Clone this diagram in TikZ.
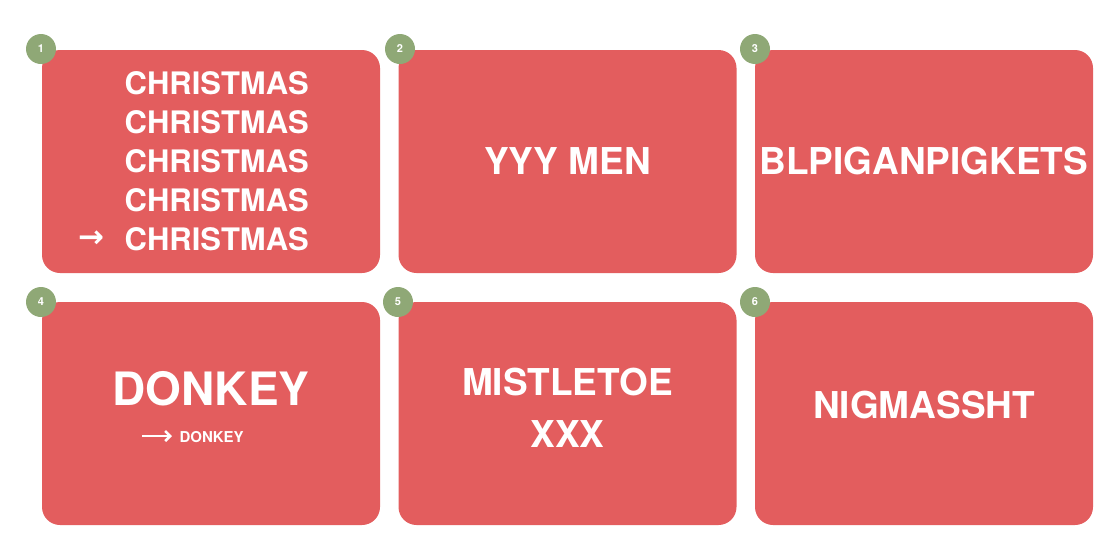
\documentclass[tikz,border=0pt]{standalone}
\usetikzlibrary{arrows.meta}
\usepackage{fontspec}
\setmainfont{TeX Gyre Heros}
\definecolor{cardred}{HTML}{E35D5E}
\definecolor{badge}{HTML}{8FA876}
\begin{document}
\begin{tikzpicture}[x=1pt,y=-1pt,
  card/.style={fill=cardred,rounded corners=18pt,inner sep=0pt,minimum width=338pt,minimum height=223pt},
  num/.style={circle,fill=badge,minimum size=30pt,inner sep=0pt,text=white,font=\bfseries\fontsize{11}{11}\selectfont},
  big/.style={text=white,font=\bfseries\fontsize{#1}{#1}\selectfont}]
\useasboundingbox (0,0) rectangle (1120,560);
\node[card] (c1) at (211,161.5) {};
\node[card] (c2) at (567.5,161.5) {};
\node[card] (c3) at (924,161.5) {};
\node[card] (c4) at (211,413.5) {};
\node[card] (c5) at (567.5,413.5) {};
\node[card] (c6) at (924,413.5) {};
\node[num] (n1) at (41,49) {1};
\node[num] (n2) at (400,49) {2};
\node[num] (n3) at (755,49) {3};
\node[num] (n4) at (41,302) {4};
\node[num] (n5) at (398,302) {5};
\node[num] (n6) at (755,302) {6};
\foreach \y/\k in {83/a,122/b,161/c,200/d,239/e}
  \node[big=31,anchor=west] (t\k) at (121,\y) {CHRISTMAS};
\node[big=31] (arr1) at (91,239) {\fontspec{DejaVu Sans}\bfseries →};
\node[big=37] (t2) at (567.5,161) {YYY MEN};
\node[big=37] (t3) at (924,161) {BLPIGANPIGKETS};
\node[big=46] (t4) at (211,389) {DONKEY};
\node[big=15,anchor=west] (t4b) at (176,437) {DONKEY};
\coordinate (a0) at (142,436);
\draw[white,line width=2.5pt,-{Straight Barb[length=5pt]}] (a0) -- ++(30,0);
\node[big=37] (t5a) at (567.5,382) {MISTLETOE};
\node[big=37] (t5b) at (567.5,434) {XXX};
\node[big=37] (t6) at (924,405) {NIGMASSHT};
\end{tikzpicture}
\end{document}
